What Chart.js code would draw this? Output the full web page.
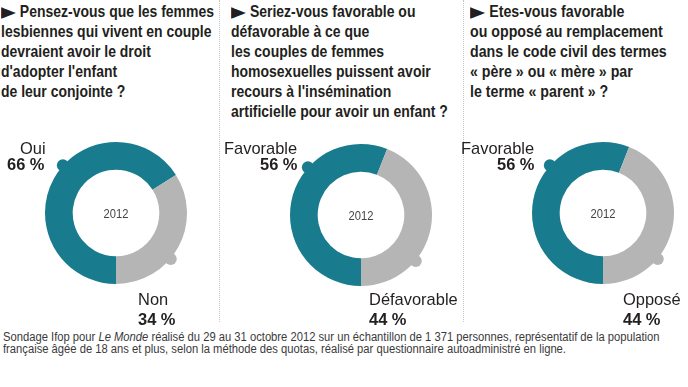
<!DOCTYPE html>
<html lang="fr">
<head>
<meta charset="utf-8">
<script src="https://cdn.jsdelivr.net/npm/chart.js@4.4.1/dist/chart.umd.min.js"></script>
<style>
  body { margin: 0; width: 688px; height: 387px; background: #fff; position: relative; overflow: hidden;
         font-family: "Liberation Sans Narrow", "Liberation Sans", Arial, sans-serif; color: #231f20; }
  .abs { position: absolute; display: inline-block; white-space: pre; transform-origin: 0 0; }
  .q { font-size: 16.5px; line-height: 20px; font-weight: bold; }
  .bul { font-size: 23px; line-height: 0; vertical-align: -2px; font-family: "DejaVu Sans", sans-serif; }
  .lab { font-size: 17px; line-height: 17px; }
  .lab.b { font-weight: bold; }
  .sep { position: absolute; top: 0; width: 0; height: 322px; border-left: 1px dotted #c4c4c4; }
  .pie { position: absolute; width: 160px; height: 160px; }
  .note { font-size: 12px; line-height: 12px; color: #3a3a3a; }
</style>
</head>
<body>
<div class="sep" style="left:219px"></div>
<div class="sep" style="left:463px"></div>

<div class="pie" style="left:36px;top:133px"><canvas id="c0"></canvas></div>
<div class="pie" style="left:281px;top:135px"><canvas id="c1"></canvas></div>
<div class="pie" style="left:523px;top:133px"><canvas id="c2"></canvas></div>

<div id="note" class="abs note" style="left:3px;top:331px" data-w="657">Sondage Ifop pour <i>Le Monde</i> réalisé du 29 au 31 octobre 2012 sur un échantillon de 1 371 personnes, représentatif de la population
française âgée de 18 ans et plus, selon la méthode des quotas, réalisé par questionnaire autoadministré en ligne.</div>

<script>
// ---- data ----
const questions = [
  ["► Pensez-vous que les femmes", "lesbiennes qui vivent en couple", "devraient avoir le droit", "d'adopter l'enfant", "de leur conjointe ?"],
  ["► Seriez-vous favorable ou", "défavorable à ce que", "les couples de femmes", "homosexuelles puissent avoir", "recours à l'insémination", "artificielle pour avoir un enfant ?"],
  ["► Etes-vous favorable", "ou opposé au remplacement", "dans le code civil des termes", "« père » ou « mère » par", "le terme « parent » ?"]
];
const yesLabels = ["Oui", "Favorable", "Favorable"];
const noLabels = ["Non", "Défavorable", "Opposé"];
const yesValues = [66, 56, 56];
const noValues = [34, 44, 44];
const centerLabel = "2012";

// ---- layout ----
const TEAL = "#197b8e";
const GREY = "#b5b5b5";
// question block: left, top, index of the line used to fit, its width in px
const qBoxes = [[1, 1, 1, 210], [231, 1, 5, 217], [470, 1, 1, 193]];
// yes label: right edge; no label: left edge
const yesRight = [45, 298, 535];
const noLeft = [138, 369, 623];

function el(cls, text, x, y) {
  const d = document.createElement("div");
  d.className = "abs " + cls;
  d.textContent = text;
  d.style.left = x + "px";
  d.style.top = y + "px";
  document.body.appendChild(d);
  return d;
}

// question texts, one line per div, all lines of a block scaled alike
questions.forEach((lines, i) => {
  const [x, y, ref, w] = qBoxes[i];
  const divs = lines.map((t, k) => {
    const d = el("q", t, x, y + k * 20);
    if (t.startsWith("► ")) {
      d.textContent = " " + t.slice(2);
      const b = document.createElement("span");
      b.className = "bul";
      b.textContent = "►";
      d.prepend(b);
    }
    return d;
  });
  const sx = w / divs[ref].offsetWidth;
  divs.forEach(d => d.style.transform = `scaleX(${sx})`);
});

// answer labels
const probe = el("lab", "Défavorable", 0, -100);
const labSx = 89 / probe.offsetWidth;
probe.remove();
function label(text, bold, x, y, alignRight) {
  const d = el("lab" + (bold ? " b" : ""), text, 0, y);
  const w = d.offsetWidth * labSx;
  d.style.left = (alignRight ? x - w : x) + "px";
  d.style.transform = `scaleX(${labSx})`;
}
for (let i = 0; i < 3; i++) {
  label(yesLabels[i], false, yesRight[i], 140, true);
  label(yesValues[i] + " %", true, yesRight[i], 156, true);
  label(noLabels[i], false, noLeft[i], 291, false);
  label(noValues[i] + " %", true, noLeft[i], 311, false);
}

// footnote fit
const note = document.getElementById("note");
note.style.transform = `scaleX(${parseFloat(note.dataset.w) / note.offsetWidth})`;

// ---- charts ----
const knobAngles = [-48, 130];   // compass degrees of the little callout dots

const ringExtras = {
  id: "ringExtras",
  afterDatasetsDraw(chart) {
    const ctx = chart.ctx;
    const arcs = chart.getDatasetMeta(0).data;
    const { x, y, outerRadius } = arcs[0];
    ctx.save();
    knobAngles.forEach((deg, i) => {
      const a = (deg - 90) * Math.PI / 180;
      ctx.beginPath();
      ctx.arc(x + Math.cos(a) * (outerRadius + 0.5), y + Math.sin(a) * (outerRadius + 0.5), 6, 0, Math.PI * 2);
      ctx.fillStyle = chart.data.datasets[0].backgroundColor[i];
      ctx.fill();
    });
    ctx.translate(x, y);
    ctx.scale(0.86, 1);
    ctx.fillStyle = "#444";
    ctx.font = "13px 'Liberation Sans', Arial, sans-serif";
    ctx.textAlign = "center";
    ctx.textBaseline = "middle";
    ctx.fillText(centerLabel, 0, 1);
    ctx.restore();
  }
};

for (let i = 0; i < 3; i++) {
  new Chart(document.getElementById("c" + i), {
    type: "doughnut",
    data: {
      labels: [yesLabels[i], noLabels[i]],
      datasets: [{
        data: [yesValues[i], noValues[i]],
        backgroundColor: [TEAL, GREY],
        borderWidth: 0,
      }],
    },
    options: {
      responsive: true,
      maintainAspectRatio: false,
      animation: false,
      rotation: 180,
      cutout: "61%",
      layout: { padding: 9 },
      events: [],
      plugins: {
        legend: { display: false },
        tooltip: { enabled: false },
      },
    },
    plugins: [ringExtras],
  });
}
</script>
</body>
</html>
